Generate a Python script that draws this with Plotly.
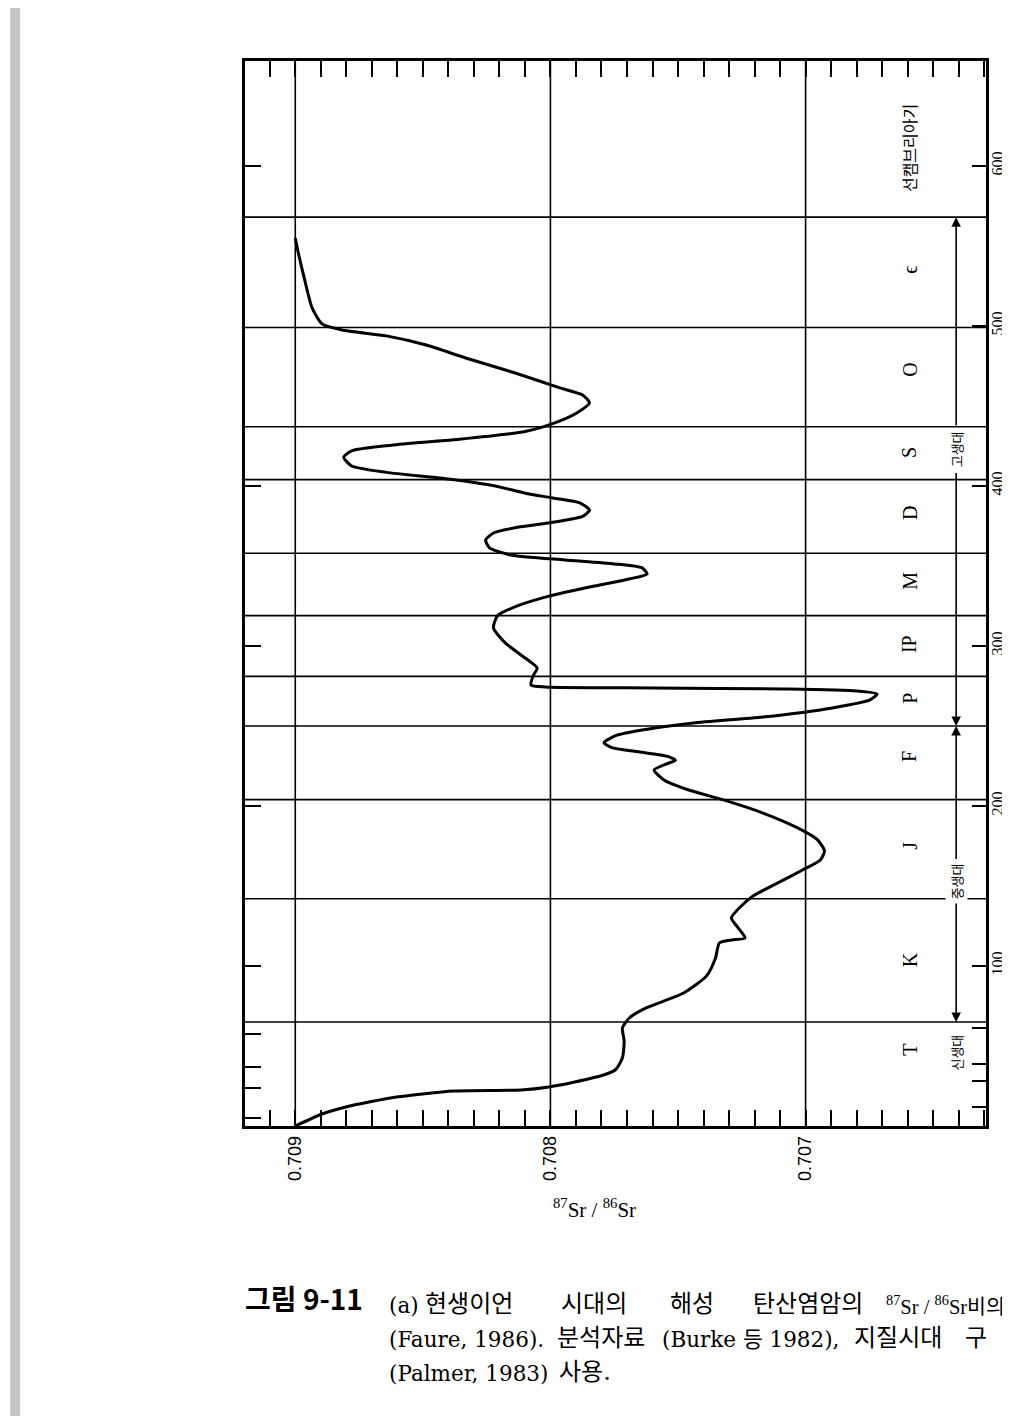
import numpy as np
import plotly.graph_objects as go

# ---------------- data ----------------
age_ma = [0.0, 7.5, 11.9, 18.1, 21.9, 22.5, 24.4, 27.5, 31.9, 35.0, 42.5, 53.1, 61.3, 67.5, 73.8,
          83.1, 93.8, 105.0, 114.4, 116.3, 117.5, 123.8, 130.0, 137.5, 143.8, 151.9, 160.0, 166.3,
          171.9, 178.8, 186.3, 195.6, 203.8, 210.0, 216.3, 222.5, 226.3, 228.5, 231.0, 234.0,
          236.5, 239.5, 244.0, 248.0, 251.9, 255.6, 261.3, 266.3, 270.0, 271.9, 273.1, 273.8,
          274.4, 275.6, 281.3, 286.3, 292.5, 301.9, 311.3, 318.8, 325.0, 331.3, 337.5, 341.9,
          345.0, 348.8, 351.3, 353.8, 356.9, 361.3, 366.3, 370.6, 374.5, 377.5, 381.0, 385.0,
          389.5, 392.5, 395.5, 400.0, 404.5, 408.5, 412.5, 418.0, 422.0, 425.5, 429.0, 434.0,
          439.4, 445.6, 451.9, 456.9, 461.3, 470.6, 480.0, 488.1, 493.8, 497.5, 501.3, 511.3,
          530.0, 545.6, 555.0]
sr_ratio = [0.709000, 0.708895, 0.708802, 0.708604, 0.708379, 0.708115, 0.708006, 0.707905,
            0.707792, 0.707746, 0.707718, 0.707711, 0.707718, 0.707691, 0.707625, 0.707478,
            0.707388, 0.707353, 0.707338, 0.707291, 0.707237, 0.707264, 0.707291, 0.707252,
            0.707206, 0.707109, 0.707012, 0.706942, 0.706926, 0.706953, 0.707031, 0.707167,
            0.707322, 0.707458, 0.707555, 0.707594, 0.707545, 0.707510, 0.707540, 0.707660,
            0.707760, 0.707790, 0.707745, 0.707620, 0.707439, 0.707167, 0.706895, 0.706748,
            0.706720, 0.706798, 0.707089, 0.707594, 0.708021, 0.708076, 0.708068, 0.708052,
            0.708099, 0.708177, 0.708223, 0.708208, 0.708130, 0.708002, 0.707827, 0.707691,
            0.707621, 0.707641, 0.707750, 0.707944, 0.708157, 0.708239, 0.708254, 0.708223,
            0.708118, 0.707983, 0.707874, 0.707847, 0.707885, 0.707990, 0.708099, 0.708216,
            0.708410, 0.708643, 0.708779, 0.708810, 0.708779, 0.708623, 0.708371, 0.708099,
            0.707983, 0.707897, 0.707847, 0.707874, 0.707963, 0.708138, 0.708332, 0.708487,
            0.708643, 0.708817, 0.708895, 0.708934, 0.708965, 0.708988, 0.709000]

period_boundaries = [65, 142, 204, 250, 281, 319, 358, 404, 437, 499, 568]
period_names = ["T", "K", "J", "F", "P", "IP", "M", "D", "S", "O", "\u03f5", "선캠브리아기"]
period_label_ages = [47.5, 104, 175, 231, 267.5, 301, 340.6, 383, 421, 472.5, 535, 611]

sr_ticks_labeled = [0.709, 0.708, 0.707]
age_tick_labels = [0, 100, 200, 300, 400, 500, 600]
left_age_ticks = [5.3, 23.7, 36.6, 57.8, 100, 200, 300, 400, 600]
right_age_ticks = [12, 28, 39, 61, 100, 200, 300, 400, 500, 600]

eras = ["신생대", "중생대", "고생대"]
era_label_ages = [46, 153, 423]
era_spans = [None, (65, 250), (250, 568)]
era_gaps = [None, (140, 166), (409, 437)]

caption_head = "그림 9-11"
caption_lines = [
    ["(a)", "현생이언", "시대의", "해성", "탄산염암의",
     "<span style='font-family:Liberation Serif, Noto Sans CJK KR'><sup>87</sup>Sr / <sup>86</sup>Sr비의</span>"],
    ["(Faure, 1986).", "분석자료", "(Burke 등 1982),", "지질시대", "구"],
    ["(Palmer, 1983)", "사용."],
]
caption_word_x = [
    [380, 417, 554, 664, 748, 882],
    [380, 550, 656, 850, 962],
    [380, 552],
]
caption_word_size = [
    [21.5, 24, 24, 24, 24, 20.5],
    [21.5, 24, 21.5, 24, 24],
    [21.5, 24],
]
caption_line_y = [1312, 1346, 1380]

sr_range = [0.709197, 0.706293]
age_range = [0, 665.6]

# ---------------- figure ----------------
fig = go.Figure()
fig.add_trace(go.Scatter(x=sr_ratio, y=age_ma, mode="lines",
                         line=dict(color="black", width=3, shape="spline", smoothing=0.6),
                         showlegend=False, hoverinfo="skip"))
fig.add_trace(go.Scatter(x=[sr_range[0]], y=[0], yaxis="y2", mode="markers",
                         marker=dict(opacity=0), showlegend=False, hoverinfo="skip"))

sr_all_ticks = [round(v, 4) for v in np.arange(0.7063, 0.70915, 0.0001)]
sr_text = [("%.3f" % v) if any(abs(v - t) < 1e-7 for t in sr_ticks_labeled) else "" for v in sr_all_ticks]

fig.update_layout(
    width=1010, height=1416,
    margin=dict(l=237, r=25, t=53, b=298),
    paper_bgcolor="white", plot_bgcolor="white",
    xaxis=dict(range=sr_range, tickmode="array", tickvals=sr_all_ticks, ticktext=sr_text,
               ticks="inside", ticklen=16, tickwidth=2, tickcolor="black", mirror="ticks",
               showline=True, linecolor="black", linewidth=2.5,
               showgrid=False, zeroline=False, tickangle=-90,
               tickfont=dict(family="Liberation Sans, Arial", size=18, color="black")),
    yaxis=dict(range=age_range, tickmode="array", tickvals=left_age_ticks, showticklabels=False,
               ticks="inside", ticklen=16, tickwidth=2, tickcolor="black",
               showline=True, linecolor="black", linewidth=2.5, mirror=True,
               showgrid=False, zeroline=False),
    yaxis2=dict(range=age_range, overlaying="y", side="right", tickmode="array",
                tickvals=right_age_ticks,
                ticktext=[str(v) if v in age_tick_labels else "" for v in right_age_ticks],
                ticks="inside", ticklen=14, tickwidth=2, tickcolor="black", tickangle=-90,
                showline=False, showgrid=False, zeroline=False,
                tickfont=dict(family="Liberation Serif", size=16, color="black")),
)

shapes = []
for v in sr_ticks_labeled:
    shapes.append(dict(type="line", xref="x", yref="paper", x0=v, x1=v, y0=0, y1=1,
                       line=dict(color="black", width=1.6)))
for b in period_boundaries:
    shapes.append(dict(type="line", xref="paper", yref="y", x0=0, x1=1, y0=b, y1=b,
                       line=dict(color="black", width=1.6)))

W, H = 748.0, 1065.0
def px(xp):
    return (xp - 237) / W
def py(yp):
    return 1 - (yp - 53) / H

# scan edge strip
shapes.append(dict(type="rect", xref="paper", yref="paper", x0=px(0), x1=px(10),
                   y0=py(1416), y1=py(0), fillcolor="#c4c4c4", line=dict(width=0),
                   layer="below"))
fig.update_layout(shapes=shapes)

annotations = []
label_x = 0.706592
for name, a in zip(period_names, period_label_ages):
    big = len(name) < 3
    annotations.append(dict(x=label_x, y=a, xref="x", yref="y", text=name, showarrow=False,
                            textangle=-90,
                            font=dict(family="Liberation Serif" if big else "Noto Sans CJK KR",
                                      size=20 if big else 16, color="black")))
era_x = 0.706410
for name, a, span, gap in zip(eras, era_label_ages, era_spans, era_gaps):
    annotations.append(dict(x=era_x, y=a, xref="x", yref="y", text=name, showarrow=False,
                            textangle=-90, bgcolor="white",
                            font=dict(family="Noto Sans CJK KR", size=13, color="black")))
    if span:
        annotations.append(dict(x=era_x, y=span[0], ax=era_x, ay=gap[0], xref="x", yref="y",
                                axref="x", ayref="y", text="", showarrow=True, arrowhead=2,
                                arrowsize=1.2, arrowwidth=1.6, arrowcolor="black", standoff=0))
        annotations.append(dict(x=era_x, y=span[1], ax=era_x, ay=gap[1], xref="x", yref="y",
                                axref="x", ayref="y", text="", showarrow=True, arrowhead=2,
                                arrowsize=1.2, arrowwidth=1.6, arrowcolor="black", standoff=0))

annotations.append(dict(x=px(590), y=py(1216), xref="paper", yref="paper",
                        text="<sup>87</sup>Sr / <sup>86</sup>Sr", showarrow=False,
                        font=dict(family="Liberation Serif", size=21, color="black")))

cap_font = "DejaVu Serif, Noto Sans CJK KR"
annotations.append(dict(x=px(235), y=py(caption_line_y[0]), xref="paper", yref="paper",
                        text="<b>" + caption_head + "</b>", showarrow=False, xanchor="left",
                        font=dict(family="Noto Sans CJK KR", size=28, color="black")))
for words, xs, sizes, yy in zip(caption_lines, caption_word_x, caption_word_size, caption_line_y):
    for w, xx, s in zip(words, xs, sizes):
        annotations.append(dict(x=px(xx), y=py(yy), xref="paper", yref="paper", text=w,
                                showarrow=False, xanchor="left",
                                font=dict(family=cap_font, size=s, color="black")))
fig.update_layout(annotations=annotations)

fig.write_html("out.html")
